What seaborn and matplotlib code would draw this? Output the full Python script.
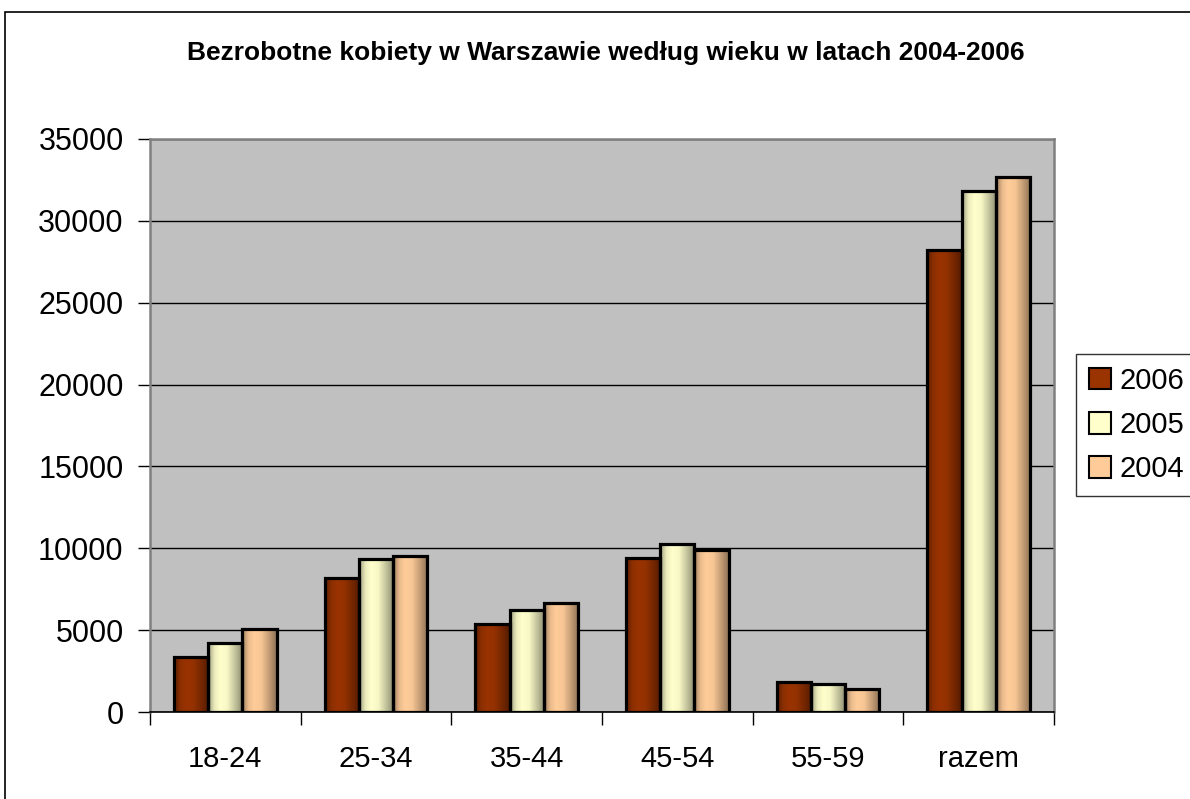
import numpy as np
import pandas as pd
import matplotlib
matplotlib.use('Agg')
import matplotlib.pyplot as plt
import seaborn as sns
from matplotlib.colors import LinearSegmentedColormap, to_rgb
from matplotlib.patches import Patch, Rectangle

# data
grupy = ['18-24', '25-34', '35-44', '45-54', '55-59', 'razem']
lata = ['2006', '2005', '2004']
v2006 = [3350, 8200, 5350, 9400, 1850, 28200]
v2005 = [4200, 9350, 6200, 10250, 1700, 31800]
v2004 = [5100, 9550, 6650, 9900, 1400, 32700]
kolory = ['#993300', '#FFFFCC', '#FFCC99']

df = pd.DataFrame({
    'wiek': grupy * 3,
    'rok': ['2006'] * 6 + ['2005'] * 6 + ['2004'] * 6,
    'liczba': v2006 + v2005 + v2004,
})

sns.set_style('white')
plt.rcParams['font.family'] = ['Liberation Sans', 'DejaVu Sans']
plt.rcParams['text.color'] = 'black'
plt.rcParams['xtick.color'] = 'black'
plt.rcParams['ytick.color'] = 'black'
plt.rcParams['xtick.labelcolor'] = 'black'
plt.rcParams['ytick.labelcolor'] = 'black'

fig = plt.figure(figsize=(11.9, 7.99), dpi=100)
ax = fig.add_axes([150 / 1190, 1 - 712 / 799, (1054 - 150) / 1190, (712 - 139) / 799])
ax.set_facecolor('#C0C0C0')

sns.barplot(data=df, x='wiek', y='liczba', hue='rok', hue_order=lata,
            palette=kolory, width=0.68, edgecolor='black', linewidth=2.3,
            legend=False, ax=ax)

# cylinder-like shading on each bar
def shade_cmap(c):
    r = np.array(to_rgb(c))
    stops = [(0.0, r * 0.62), (0.18, r * 0.92), (0.35, r), (0.55, r * 0.97),
             (0.8, r * 0.75), (1.0, r * 0.55)]
    return LinearSegmentedColormap.from_list('s', stops)

grad = np.linspace(0, 1, 64).reshape(1, -1)
for cont, c in zip(ax.containers, kolory):
    cm = shade_cmap(c)
    for bar in cont:
        x, w, h = bar.get_x(), bar.get_width(), bar.get_height()
        im = ax.imshow(grad, cmap=cm, extent=[x, x + w, 0, h], aspect='auto',
                       zorder=2, interpolation='bilinear')
        im.set_clip_path(bar)
        bar.set_facecolor('none')
        bar.set_zorder(3)

ax.set_xlim(-0.5, 5.5)
ax.set_ylim(0, 35000)
ax.set_yticks(np.arange(0, 35001, 5000))
ax.yaxis.grid(True, color='black', linewidth=1.0)
ax.set_axisbelow(True)
ax.tick_params(axis='y', labelsize=22, length=9, width=1, direction='out',
               pad=10, left=True)

# group boundaries as major ticks, labels at centers
ax.set_xticks(np.arange(-0.5, 6.0, 1.0))
ax.set_xticklabels([])
ax.set_xticks(np.arange(6), minor=True)
ax.set_xticklabels(grupy, minor=True)
ax.tick_params(axis='x', which='major', length=9, width=1, bottom=True, direction='out')
ax.tick_params(axis='x', which='minor', length=0, labelsize=21, pad=24)
ax.set_xlabel('')
ax.set_ylabel('')

for s in ['top', 'right', 'left']:
    ax.spines[s].set_color('#808080')
    ax.spines[s].set_linewidth(1.8)
ax.spines['bottom'].set_color('black')
ax.spines['bottom'].set_linewidth(1.2)

fig.text(606 / 1190, 1 - 53 / 799, 'Bezrobotne kobiety w Warszawie według wieku w latach 2004-2006',
         ha='center', va='center', fontsize=19, fontweight='bold', color='black')

uchwyty = [Patch(facecolor=c, edgecolor='black', linewidth=1.5) for c in kolory]
leg = fig.legend(uchwyty, lata, loc='center left', bbox_to_anchor=(1076 / 1190, 1 - 425 / 799),
                 fontsize=21, frameon=True, fancybox=False, edgecolor='black',
                 handlelength=0.75, handleheight=0.75, handletextpad=0.3,
                 labelspacing=0.55, borderpad=0.45, borderaxespad=0)
leg.get_frame().set_linewidth(1.0)
for t in leg.get_texts():
    t.set_color('black')

# outer chart border
fig.add_artist(Rectangle((5 / 1190, -0.1), 2, 1.1 - 12 / 799, transform=fig.transFigure,
                         fill=False, edgecolor='black', linewidth=1.2))

fig.savefig('out.png', dpi=100)
